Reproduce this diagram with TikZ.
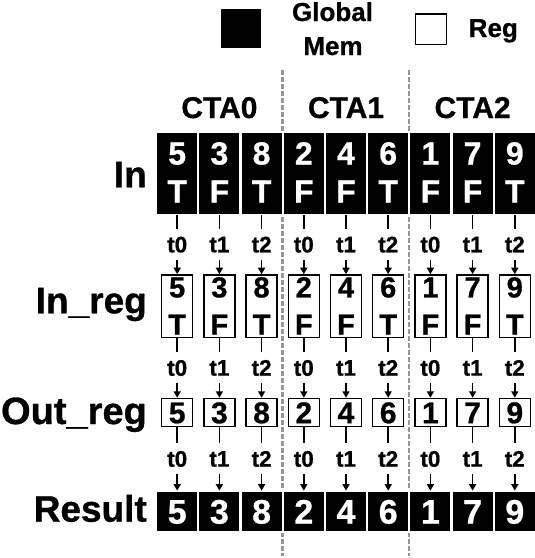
\documentclass[tikz,border=0pt]{standalone}
\usepackage{fontspec}
\setmainfont{Liberation Sans}
\newfontfamily\heavyfont{Liberation Sans Bold}[FakeBold=0.8]
\usetikzlibrary{arrows.meta}
\definecolor{dashgray}{RGB}{150,150,150}
\newcommand{\fsz}[1]{\heavyfont\fontsize{#1}{#1}\selectfont}
\begin{document}
\begin{tikzpicture}[x=1pt,y=-1pt,
  gcell/.style={fill=black, draw=white, line width=2.2pt, minimum width=42.2pt, inner sep=0pt, outer sep=0pt},
  rbox/.style={fill=white, draw=black, line width=1.5pt, minimum width=31pt, inner sep=0pt},
  rowlab/.style={anchor=base east, inner sep=0pt, font=\fsz{37}},
  txt/.style={anchor=base, inner sep=0pt},
  conn/.style={line width=1.5pt, -{Triangle[length=6.5pt,width=7pt]}},
  tlab/.style={fill=white, inner sep=0pt, minimum height=31pt, font=\fsz{22.5}},
  divider/.style={draw=dashgray, line width=2.6pt, dash pattern=on 4.5pt off 2.5pt}
]
\useasboundingbox (0,0) rectangle (535,558);

% CTA dividers
\coordinate (d1t) at (282.5,70);
\coordinate (d1b) at (282.5,556);
\coordinate (d2t) at (409.1,70);
\coordinate (d2b) at (409.1,556);
\draw[divider] (d1t) -- (d1b);
\draw[divider] (d2t) -- (d2b);

% legend
\node[fill=black, minimum width=40pt, minimum height=39pt, inner sep=0pt] (lgm) at (241,28) {};
\node[txt, font=\fsz{26}] (lglobal) at (332.5,21) {Global};
\node[txt, font=\fsz{26}] (lmem) at (333,55) {Mem};
\node[fill=white, draw=black, line width=1.5pt, minimum width=31pt, minimum height=30.5pt, inner sep=0pt] (lreg) at (431.2,29.2) {};
\node[txt, font=\fsz{26}] (lregt) at (493.3,37) {Reg};

% CTA headers
\node[txt, font=\fsz{30}] (cta0) at (219.4,118) {CTA0};
\node[txt, font=\fsz{30}] (cta1) at (346,118) {CTA1};
\node[txt, font=\fsz{30}] (cta2) at (472.6,118) {CTA2};

% row labels
\node[rowlab] (lin) at (147,187.3) {In};
\node[rowlab] (linr) at (147,313.3) {In\_reg};
\node[rowlab, font=\fsz{38}] (loutr) at (147,424) {Out\_reg};
\node[rowlab] (lres) at (147,521.7) {Result};

\foreach \v/\f/\t [count=\i from 0] in {5/T/0,3/F/1,8/T/2,2/F/0,4/F/1,6/T/2,1/F/0,7/F/1,9/T/2}{
  \pgfmathsetmacro{\xx}{177.2+42.2*\i}
  % In (global memory)
  \node[gcell, minimum height=83.2pt] (in\i) at (\xx,173.5) {};
  \node[txt, text=white, font=\fsz{32}] (inv\i) at (\xx,164.5) {\v};
  \node[txt, text=white, font=\fsz{32}] (inf\i) at (\xx,202.5) {\f};
  % In_reg
  \node[rbox, minimum height=62.5pt] (inr\i) at (\xx,306.2) {};
  \node[txt, font=\fsz{29}] (inrv\i) at (\xx,297.4) {\v};
  \node[txt, font=\fsz{29}] (inrf\i) at (\xx,334.6) {\f};
  % Out_reg
  \node[rbox, minimum height=28pt] (outr\i) at (\xx,412.5) {};
  \node[txt, font=\fsz{30}] (outrv\i) at (\xx,423.2) {\v};
  % Result (global memory)
  \node[gcell, minimum height=41.5pt] (res\i) at (\xx,511.4) {};
  \node[txt, text=white, font=\fsz{34}] (resv\i) at (\xx,523.6) {\v};
  % connectors
  \draw[conn] (in\i.south) -- node[tlab] (ta\i) {t\t} (inr\i.north);
  \draw[conn] (inr\i.south) -- node[tlab] (tb\i) {t\t} (outr\i.north);
  \draw[conn] (outr\i.south) -- node[tlab] (tc\i) {t\t} (res\i.north);
}
\end{tikzpicture}
\end{document}
